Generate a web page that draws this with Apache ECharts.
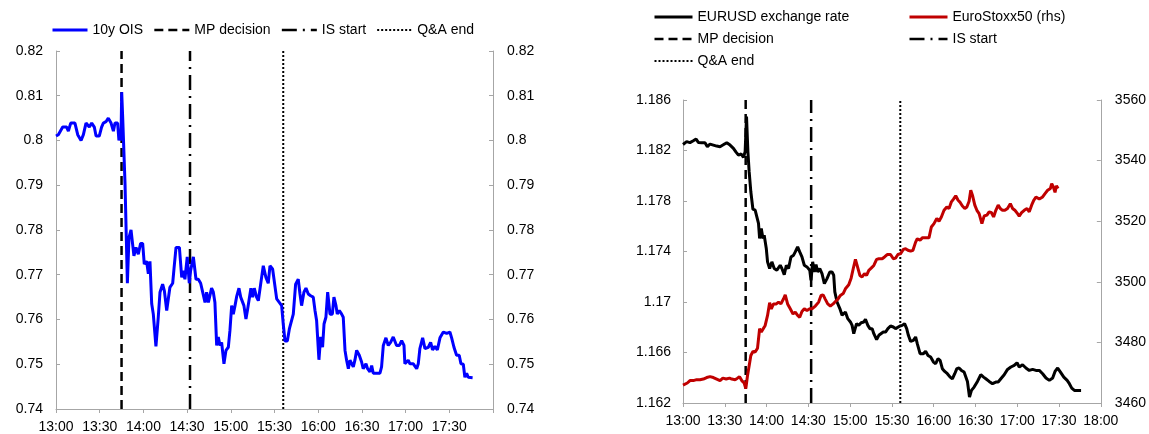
<!DOCTYPE html>
<html><head><meta charset="utf-8">
<script src="https://cdn.jsdelivr.net/npm/echarts@6/dist/echarts.min.js"></script>
<style>html,body{margin:0;padding:0;background:#fff}#c{width:1149px;height:434px}</style>
</head><body><div id="c"></div>
<script>
// ---- Data (minutes after 13:00) ----
const oisMinutes = [0,1.6,2.7,4.6,7.3,8.5,10.1,13.0,14.9,17.2,18.8,20.6,22.9,24.5,26.3,27.5,29.7,31.3,32.5,34.3,35.9,37.8,39.4,40.5,42.3,43.2,43.9,44.6,45.1,45.8,47.4,49.0,50.1,51.5,52.6,53.5,54.9,56.5,58.1,59.5,60.6,62.2,63.4,64.5,65.7,66.8,68.6,70.2,71.4,73.2,74.4,76.0,77.1,78.2,80.1,81.0,82.4,84.7,86.3,87.4,88.5,90.1,91.5,92.4,94.3,96.1,97.7,99.3,100.7,102.3,103.4,104.6,105.7,106.8,108.0,109.1,110.3,111.4,112.6,113.7,115.3,116.7,118.3,119.4,120.6,121.7,122.9,124.0,125.6,126.8,128.1,129.0,130.4,131.6,132.7,133.8,135.0,136.1,137.7,138.9,140.5,142.3,144.1,145.7,146.9,148.7,149.6,151.5,153.8,154.9,156.0,157.2,158.8,160.2,161.1,162.9,164.5,166.3,167.5,168.6,170.2,171.6,173.2,174.8,176.6,177.8,178.9,180.5,181.7,183.0,184.0,185.3,186.5,188.1,189.7,190.8,192.2,193.1,194.5,196.1,197.2,198.4,199.5,200.7,201.8,202.9,204.1,205.2,206.4,208.2,209.8,210.9,212.8,213.9,215.5,216.7,217.8,219.0,222.4,223.5,224.7,226.5,228.1,229.7,231.5,233.8,235.7,237.3,238.9,239.5,241.8,243.0,245.3,247.6,248.7,249.8,251.7,253.3,254.4,255.6,257.2,258.5,260.1,261.8,263.6,265.9,268.2,270.4,271.6,273.2,275.0,276.8,278.0,279.6,280.7,281.9,283.0,284.2,286.0];
const oisValues = [0.8010,0.8013,0.8010,0.8030,0.8030,0.8021,0.8039,0.8039,0.8013,0.8000,0.8013,0.8039,0.8030,0.8039,0.8030,0.8010,0.8010,0.8030,0.8039,0.8042,0.8050,0.8039,0.8021,0.8039,0.8039,0.8000,0.8021,0.8000,0.8108,0.8050,0.7902,0.7681,0.7783,0.7800,0.7798,0.7742,0.7761,0.7746,0.7770,0.7770,0.7724,0.7730,0.7702,0.7730,0.7635,0.7612,0.7540,0.7605,0.7661,0.7679,0.7664,0.7620,0.7620,0.7672,0.7681,0.7713,0.7761,0.7761,0.7694,0.7709,0.7690,0.7740,0.7681,0.7709,0.7740,0.7690,0.7690,0.7681,0.7661,0.7638,0.7661,0.7638,0.7642,0.7670,0.7661,0.7638,0.7542,0.7561,0.7542,0.7549,0.7501,0.7531,0.7538,0.7575,0.7631,0.7612,0.7631,0.7651,0.7670,0.7650,0.7651,0.7631,0.7601,0.7624,0.7620,0.7670,0.7650,0.7670,0.7650,0.7642,0.7679,0.7720,0.7694,0.7681,0.7720,0.7713,0.7710,0.7646,0.7636,0.7631,0.7590,0.7552,0.7552,0.7579,0.7581,0.7612,0.7679,0.7690,0.7657,0.7631,0.7661,0.7670,0.7657,0.7653,0.7650,0.7620,0.7598,0.7510,0.7561,0.7538,0.7590,0.7605,0.7661,0.7612,0.7612,0.7650,0.7631,0.7612,0.7620,0.7612,0.7605,0.7531,0.7509,0.7490,0.7509,0.7510,0.7494,0.7509,0.7531,0.7520,0.7505,0.7490,0.7501,0.7490,0.7483,0.7497,0.7480,0.7480,0.7480,0.7494,0.7542,0.7559,0.7542,0.7549,0.7561,0.7542,0.7542,0.7553,0.7542,0.7501,0.7509,0.7501,0.7501,0.7490,0.7501,0.7535,0.7559,0.7535,0.7531,0.7538,0.7549,0.7532,0.7540,0.7532,0.7559,0.7572,0.7569,0.7572,0.7559,0.7538,0.7520,0.7520,0.7501,0.7500,0.7471,0.7480,0.7471,0.7475,0.7470];

const eurMinutes = [0,2.6,5.0,7.4,9.4,11.0,13.4,15.8,17.5,19.4,21.8,24.2,26.6,28.6,31.4,33.8,36.2,38.2,39.8,41.8,43.4,44.6,45.6,46.6,47.5,48.7,50.2,51.8,53.0,54.2,55.0,56.2,57.4,58.3,59.8,60.7,62.2,63.8,65.5,67.4,69.8,71.0,72.7,74.2,75.8,77.5,79.4,80.6,82.3,83.8,85.4,87.1,89.0,91.0,91.9,93.1,94.3,95.5,96.7,98.2,99.8,101.5,103.4,105.4,107.0,108.2,109.0,110.6,112.6,114.2,116.6,118.3,120.2,121.4,122.6,124.6,126.2,127.9,129.8,131.0,132.7,134.2,135.8,137.0,139.0,140.6,141.8,143.8,145.4,147.1,149.0,151.0,152.6,153.8,155.8,157.4,159.1,160.6,161.8,163.4,165.4,167.0,168.2,170.2,172.6,174.2,175.9,177.8,179.8,181.4,183.1,184.6,186.2,187.9,189.8,191.8,193.4,195.1,196.6,198.2,199.9,201.8,203.0,204.2,205.7,207.1,209.0,211.4,213.8,215.8,217.4,219.8,222.2,224.6,226.3,228.2,230.6,233.0,235.4,237.8,239.8,241.4,243.8,246.2,248.6,251.0,253.4,255.8,258.2,260.6,263.0,265.4,267.1,269.0,271.0,273.4,275.8,277.4,279.1,281.0,283.4,285.8];
const eurValues = [1.18248,1.18270,1.18262,1.18277,1.18291,1.18264,1.18262,1.18262,1.18230,1.18251,1.18243,1.18235,1.18230,1.18243,1.18262,1.18243,1.18217,1.18185,1.18164,1.18172,1.18145,1.18190,1.18468,1.18190,1.18032,1.17873,1.17735,1.17727,1.17714,1.17622,1.17503,1.17582,1.17503,1.17529,1.17423,1.17318,1.17265,1.17318,1.17265,1.17252,1.17291,1.17265,1.17217,1.17291,1.17265,1.17357,1.17371,1.17397,1.17437,1.17397,1.17357,1.17291,1.17278,1.17252,1.17172,1.17318,1.17238,1.17297,1.17238,1.17265,1.17225,1.17146,1.17185,1.17238,1.17238,1.17212,1.17080,1.17000,1.16948,1.16895,1.16921,1.16868,1.16842,1.16815,1.16749,1.16829,1.16815,1.16836,1.16842,1.16863,1.16815,1.16789,1.16789,1.16749,1.16702,1.16736,1.16749,1.16762,1.16762,1.16789,1.16810,1.16802,1.16789,1.16789,1.16810,1.16815,1.16829,1.16789,1.16736,1.16688,1.16696,1.16723,1.16670,1.16591,1.16591,1.16609,1.16577,1.16564,1.16524,1.16511,1.16551,1.16538,1.16472,1.16450,1.16432,1.16405,1.16392,1.16432,1.16472,1.16477,1.16458,1.16445,1.16432,1.16371,1.16247,1.16300,1.16326,1.16371,1.16424,1.16405,1.16392,1.16371,1.16353,1.16366,1.16366,1.16392,1.16424,1.16466,1.16485,1.16498,1.16519,1.16485,1.16503,1.16477,1.16458,1.16466,1.16458,1.16458,1.16432,1.16398,1.16379,1.16398,1.16450,1.16477,1.16445,1.16405,1.16379,1.16353,1.16318,1.16300,1.16300,1.16300];

const stoxxMinutes = [0,1.4,3.1,5.0,7.4,9.8,12.2,14.6,17.0,19.4,21.8,24.2,26.6,28.6,31.0,33.4,35.0,37.4,39.1,40.6,42.2,43.9,45.1,46.3,47.5,48.7,50.2,51.8,53.5,55.0,56.2,57.4,59.0,60.7,62.2,63.4,65.0,67.0,68.6,70.3,72.2,73.4,75.1,77.0,79.0,80.6,82.3,83.8,85.4,87.1,89.0,91.0,92.6,95.0,97.4,99.1,100.6,102.2,103.9,105.8,107.8,109.4,111.1,113.0,115.0,116.6,119.0,120.7,122.2,123.8,125.0,127.0,128.6,130.3,131.8,133.4,135.1,137.0,139.0,140.6,143.0,144.7,146.6,147.8,149.0,151.0,152.6,154.3,156.2,158.2,159.8,161.5,163.4,165.1,167.0,168.2,170.2,171.8,174.2,176.6,178.3,180.2,182.2,183.8,185.5,187.4,189.4,191.0,192.7,194.2,195.8,197.5,199.0,200.6,202.3,203.8,205.4,206.6,207.8,209.5,211.0,212.6,214.6,216.2,218.2,219.8,221.5,223.0,224.6,226.3,227.8,229.4,231.1,233.0,235.0,236.6,238.3,240.2,241.4,243.1,245.0,247.0,248.6,250.3,251.8,253.4,255.8,258.2,259.9,261.8,263.8,264.7,265.9,267.1,268.1,269.3];
const stoxxValues = [3465.9,3465.7,3466.6,3467.4,3467.4,3467.7,3467.7,3467.9,3468.4,3468.7,3468.4,3467.9,3467.4,3468.2,3467.9,3468.2,3467.9,3467.7,3468.2,3468.7,3467.4,3466.6,3464.8,3469.0,3472.3,3475.7,3477.0,3476.8,3478.1,3484.5,3483.4,3482.8,3485.6,3488.9,3493.1,3491.1,3492.7,3492.7,3493.3,3492.7,3494.4,3495.7,3492.7,3491.1,3489.4,3490.0,3488.9,3488.3,3490.2,3491.1,3490.5,3491.1,3491.1,3492.0,3493.3,3495.5,3495.7,3494.2,3492.7,3492.0,3492.7,3493.5,3494.2,3495.5,3496.1,3497.7,3499.0,3501.2,3504.3,3507.4,3505.4,3502.1,3501.6,3502.7,3502.1,3503.8,3504.5,3505.4,3507.4,3507.6,3507.6,3508.2,3509.0,3509.6,3509.0,3507.6,3507.8,3509.0,3509.3,3510.7,3510.9,3510.4,3510.1,3510.4,3513.1,3514.2,3513.7,3514.5,3514.5,3514.5,3518.1,3519.2,3520.9,3520.0,3521.4,3523.6,3524.7,3524.2,3526.4,3527.3,3528.4,3526.9,3526.2,3525.0,3524.2,3524.7,3526.6,3530.2,3528.6,3525.3,3523.6,3522.5,3519.2,3521.7,3522.0,3523.1,3522.8,3521.4,3523.6,3525.3,3524.2,3523.6,3523.6,3524.2,3525.8,3524.2,3523.6,3522.5,3521.7,3522.8,3523.6,3524.2,3523.1,3525.3,3526.9,3528.0,3527.3,3528.0,3529.1,3530.2,3530.8,3532.4,3531.3,3529.5,3531.7,3530.8];

const eventNames = ['MP decision', 'IS start', 'Q&A end'];
const eventMinutes = [45, 92, 156];

const leftRange = [0.74, 0.82, 0.01];
const eurRange = [1.162, 1.186, 0.004];
const stoxxRange = [3460, 3560, 20];
const timeRange = [0, 300, 30]; // 13:00 .. 18:00

// ---- Chart ----
const FONT = '"Liberation Sans", Arial, sans-serif';
const AX = '#a6a6a6';
const TXT = { color: '#000', fontFamily: FONT, fontSize: 14 };
function fmtTime(m) { const h = 13 + Math.floor(m / 60); const mm = Math.round(m % 60); return h + ':' + (mm < 10 ? '0' : '') + mm; }
function xAxis(gridIndex, showLast) {
  return { type: 'value', gridIndex, min: timeRange[0], max: timeRange[1], interval: timeRange[2],
    axisLine: { show: true, onZero: false, lineStyle: { color: AX, width: 1 } },
    axisTick: { show: true, inside: false, length: 4, lineStyle: { color: AX } },
    splitLine: { show: false },
    axisLabel: Object.assign({}, TXT, { margin: 11, showMaxLabel: true, showMinLabel: true,
      formatter: v => (!showLast && v === timeRange[1]) ? '' : fmtTime(v) }) };
}
function yAxis(gridIndex, position, r, margin) {
  return { type: 'value', gridIndex, position, min: r[0], max: r[1], interval: r[2],
    axisLine: { show: true, onZero: false, lineStyle: { color: AX, width: 1 } },
    axisTick: { show: true, inside: true, length: 4, lineStyle: { color: AX } },
    splitLine: { show: false },
    axisLabel: Object.assign({}, TXT, { margin, formatter: v => String(+v.toFixed(4)) }) };
}
const eventStyles = [
  { type: [9, 5], width: 2.5 },
  { type: [15, 6, 2, 6], width: 2.5 },
  { type: [2, 2], width: 2 }
];
function eventSeries(xi, yi, r) {
  return eventNames.map((n, i) => ({
    name: n, type: 'line', xAxisIndex: xi, yAxisIndex: yi, symbol: 'none', silent: true, z: 2,
    lineStyle: { color: '#000', width: eventStyles[i].width, type: eventStyles[i].type },
    itemStyle: { color: '#000' },
    data: [[eventMinutes[i], r[0]], [eventMinutes[i], r[1]]]
  }));
}
const pairs = (xs, ys) => xs.map((x, i) => [x, ys[i]]);

const chart = echarts.init(document.getElementById('c'), null, { renderer: 'canvas' });
const legendBase = { selectedMode: false, itemHeight: 14, textStyle: TXT, padding: 0,
  itemStyle: { opacity: 0, borderWidth: 0 }, lineStyle: { width: 'inherit' } };
chart.setOption({
  animation: false,
  backgroundColor: '#fff',
  grid: [
    { left: 56, right: 656, top: 51, bottom: 24 },
    { left: 683, right: 48, top: 100, bottom: 31 }
  ],
  legend: [
    Object.assign({}, legendBase, { data: ['10y OIS', 'MP decision', 'IS start', 'Q&A end'], left: 51, top: 23, itemWidth: 35, itemGap: 10, orient: 'horizontal' }),
    Object.assign({}, legendBase, { data: ['EURUSD exchange rate', 'MP decision', 'Q&A end'], left: 653, top: 10, itemWidth: 38, itemGap: 8, orient: 'vertical' }),
    Object.assign({}, legendBase, { data: ['EuroStoxx50 (rhs)', 'IS start'], left: 908, top: 10, itemWidth: 38, itemGap: 8, orient: 'vertical' })
  ],
  xAxis: [xAxis(0, false), xAxis(1, true)],
  yAxis: [
    yAxis(0, 'left', leftRange, 13),
    yAxis(0, 'right', leftRange, 14),
    yAxis(1, 'left', eurRange, 12),
    yAxis(1, 'right', stoxxRange, 14)
  ],
  series: [
    ...eventSeries(0, 0, leftRange),
    { name: '10y OIS', type: 'line', xAxisIndex: 0, yAxisIndex: 0, symbol: 'none', z: 3,
      lineStyle: { color: '#0000ff', width: 3 }, itemStyle: { color: '#0000ff' }, data: pairs(oisMinutes, oisValues) },
    ...eventSeries(1, 2, eurRange),
    { name: 'EURUSD exchange rate', type: 'line', xAxisIndex: 1, yAxisIndex: 2, symbol: 'none', z: 3,
      lineStyle: { color: '#000', width: 3 }, itemStyle: { color: '#000' }, data: pairs(eurMinutes, eurValues) },
    { name: 'EuroStoxx50 (rhs)', type: 'line', xAxisIndex: 1, yAxisIndex: 3, symbol: 'none', z: 3,
      lineStyle: { color: '#c00000', width: 3 }, itemStyle: { color: '#c00000' }, data: pairs(stoxxMinutes, stoxxValues) }
  ]
});
</script></body></html>
